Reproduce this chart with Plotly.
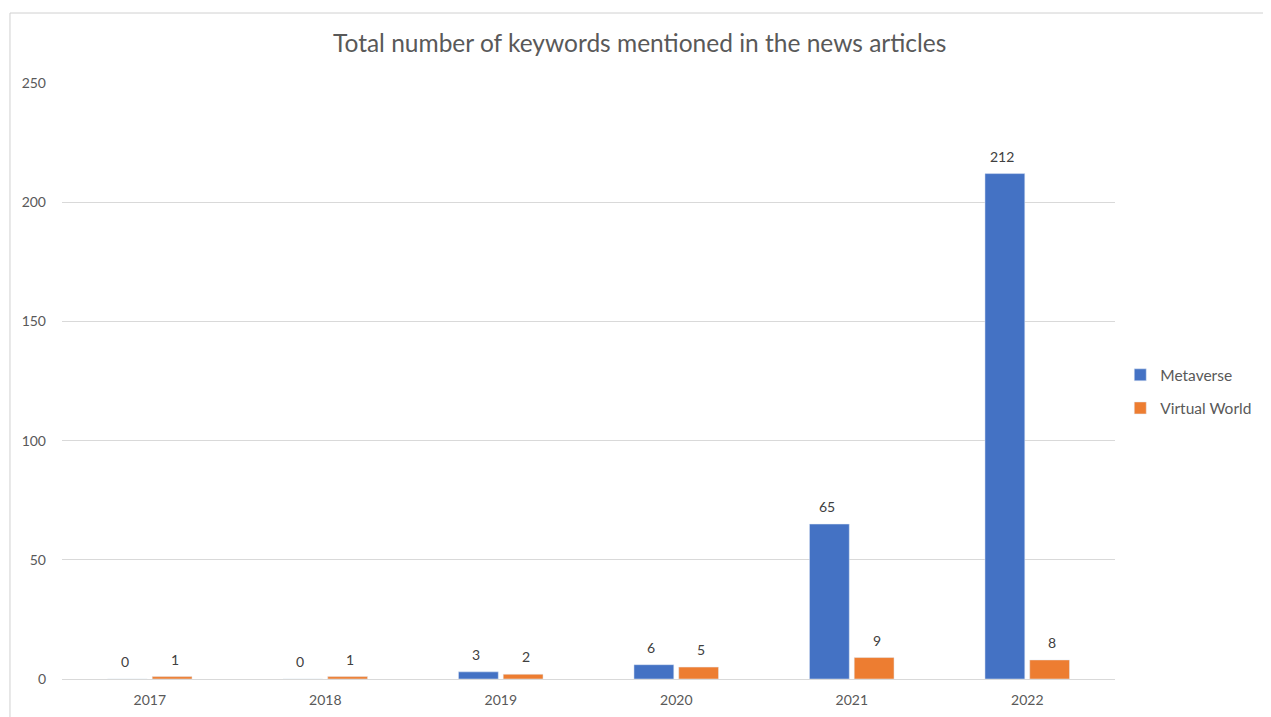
import plotly.graph_objects as go

years = ["2017", "2018", "2019", "2020", "2021", "2022"]
metaverse = [0, 0, 3, 6, 65, 212]
virtual_world = [1, 1, 2, 5, 9, 8]
y_ticks = [0, 50, 100, 150, 200, 250]

FONT = "Lato, 'Open Sans', sans-serif"

fig = go.Figure()
fig.add_trace(go.Bar(x=years, y=metaverse, name="Metaverse", marker_color="#4472C4",
                     legendgroup="m"))
fig.add_trace(go.Bar(x=years, y=virtual_world, name="Virtual World", marker_color="#ED7D31",
                     legendgroup="v"))

# data labels: x given as category index on the category axis
for series, shift in ((metaverse, -25), (virtual_world, 25)):
    for i, v in enumerate(series):
        fig.add_annotation(x=i, y=v, text=str(v), showarrow=False, xanchor="center",
                           yanchor="bottom", xshift=shift, yshift=7,
                           font=dict(family=FONT, size=14, color="#404040"))

fig.update_layout(
    width=1271, height=717,
    margin=dict(l=54, r=164, t=75, b=46),
    paper_bgcolor="white", plot_bgcolor="white",
    barmode="group", bargap=0.49, bargroupgap=0.11,
    title=dict(text="Total number of keywords mentioned in the news articles",
               x=0.497, xanchor="center", y=0.95, yanchor="middle",
               font=dict(family=FONT, size=24.5, color="#595959")),
    font=dict(family=FONT, color="#595959", size=14),
    showlegend=True,
    legend=dict(x=1.005, y=0.482, xanchor="left", yanchor="middle",
                font=dict(size=15.5, color="#595959", family=FONT),
                tracegroupgap=10, bgcolor="rgba(0,0,0,0)"),
    xaxis=dict(type="category", range=[-0.5, len(years) - 0.5], showline=True,
               linecolor="#D9D9D9", linewidth=1, ticks="",
               ticklabelstandoff=8, tickfont=dict(size=14, color="#595959"), showgrid=False),
    yaxis=dict(range=[0, 250], tickvals=y_ticks, showgrid=True, gridcolor="#D9D9D9",
               gridwidth=1, zeroline=False, showline=False, ticks="",
               ticklabelstandoff=15, tickfont=dict(size=14, color="#595959")),
)

fig.add_shape(type="line", xref="paper", yref="paper", x0=-0.0494, x1=1.2, y0=1.1174, y1=1.1174,
              line=dict(color="#D0D0D0", width=1))
fig.add_shape(type="line", xref="paper", yref="paper", x0=-0.0494, x1=-0.0494, y0=1.1174, y1=-0.07,
              line=dict(color="#D0D0D0", width=1))

fig.write_html("out.html")
